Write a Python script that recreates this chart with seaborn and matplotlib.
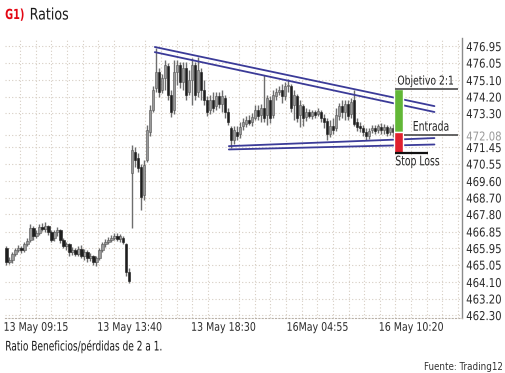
import numpy as np
import pandas as pd
import seaborn as sns
import matplotlib.pyplot as plt
from matplotlib import font_manager as fm
from matplotlib.patheffects import AbstractPathEffect
from matplotlib.transforms import Affine2D

# candle data (open, high, low, close), one candle per bar index
opens = [465.95, 465.19, 465.30, 465.62, 465.84, 465.95, 465.84, 466.17, 466.39, 467.04,
         466.60, 466.77, 467.09, 466.98, 467.15, 466.82, 466.49, 466.82, 466.93, 466.39,
         466.06, 466.17, 465.73, 465.84, 465.62, 465.89, 465.51, 465.73, 465.40, 465.51,
         465.19, 465.40, 465.84, 466.17, 466.28, 466.39, 466.49, 466.60, 466.44, 466.49,
         466.17, 464.64, 470.03, 471.18, 470.85, 470.36, 468.84, 470.74, 472.27, 473.46,
         474.66, 475.53, 474.55, 475.21, 475.86, 474.28, 473.46, 475.53, 475.92, 474.99,
         475.75, 474.44, 475.10, 475.92, 474.44, 475.53, 474.55, 474.01, 473.46, 474.01,
         473.68, 474.23, 473.79, 474.12, 473.36, 472.48, 471.83, 472.27, 472.16, 472.59,
         472.70, 472.92, 472.81, 473.03, 473.46, 473.19, 473.57, 473.19, 474.01, 473.19,
         474.23, 474.44, 474.55, 474.23, 474.77, 474.77, 473.74, 474.23, 473.19, 473.68,
         473.08, 473.36, 473.14, 473.36, 473.25, 473.36, 473.03, 472.87, 472.16, 472.59,
         472.48, 473.14, 473.68, 473.36, 473.79, 473.25, 474.01, 472.81, 472.59, 472.48,
         472.27, 472.05, 472.38, 472.48, 472.38, 472.54, 472.38, 472.54, 472.27, 472.48]
highs = [466.06, 465.46, 465.73, 465.95, 466.11, 466.06, 466.28, 466.49, 467.26, 467.15,
         466.93, 467.26, 467.31, 467.37, 467.20, 466.93, 466.93, 467.09, 466.98, 466.49,
         466.28, 466.22, 466.00, 465.95, 466.06, 466.11, 465.89, 465.84, 465.68, 465.57,
         465.51, 465.95, 466.28, 466.44, 466.55, 466.66, 466.77, 466.77, 466.71, 466.60,
         466.22, 464.86, 471.56, 471.45, 471.12, 470.52, 470.74, 472.65, 473.74, 474.77,
         476.84, 475.75, 475.43, 476.19, 476.02, 474.55, 476.19, 476.19, 476.08, 476.08,
         476.08, 475.64, 476.30, 476.08, 476.35, 475.75, 475.10, 474.23, 474.28, 474.44,
         474.44, 474.44, 474.55, 474.28, 473.57, 472.59, 472.59, 472.59, 472.81, 473.03,
         473.14, 473.19, 473.30, 473.74, 473.74, 473.79, 475.37, 474.28, 474.23, 474.55,
         474.66, 474.77, 474.88, 474.99, 475.15, 474.88, 474.55, 474.34, 474.01, 473.79,
         473.57, 473.52, 473.46, 473.46, 473.57, 473.46, 473.25, 473.03, 472.92, 473.03,
         473.57, 473.85, 474.01, 474.01, 474.01, 474.12, 474.55, 473.03, 472.81, 472.65,
         472.48, 472.48, 472.65, 472.65, 472.70, 472.76, 472.70, 472.65, 472.59, 472.70]
lows = [465.02, 465.08, 465.13, 465.51, 465.73, 465.68, 465.73, 466.06, 466.28, 466.39,
        466.49, 466.66, 466.88, 466.82, 466.66, 466.28, 466.33, 466.60, 466.22, 465.95,
        465.84, 465.51, 465.57, 465.51, 465.51, 465.40, 465.30, 465.19, 465.24, 465.02,
        464.97, 465.30, 465.73, 466.00, 466.17, 466.28, 466.39, 466.33, 466.28, 466.17,
        464.42, 464.04, 467.04, 470.36, 470.09, 468.02, 468.56, 470.63, 472.05, 473.36,
        474.44, 474.17, 474.39, 474.55, 474.01, 473.08, 473.25, 474.83, 474.66, 474.55,
        474.01, 474.28, 473.74, 474.01, 474.17, 474.01, 473.74, 473.14, 473.25, 473.36,
        473.46, 473.57, 473.36, 473.03, 472.65, 471.40, 471.61, 471.83, 471.94, 472.38,
        472.54, 472.65, 472.59, 472.92, 472.92, 472.81, 472.81, 472.65, 472.76, 473.03,
        474.01, 474.28, 473.85, 474.01, 474.44, 473.36, 472.92, 472.81, 472.54, 472.59,
        472.87, 473.03, 472.97, 473.03, 473.14, 472.81, 472.48, 471.83, 471.99, 472.16,
        472.32, 472.92, 473.03, 472.92, 472.92, 473.03, 472.59, 472.32, 472.27, 472.05,
        471.83, 471.89, 472.21, 472.16, 472.21, 472.16, 472.16, 472.05, 472.10, 471.99]
closes = [465.19, 465.30, 465.62, 465.84, 465.95, 465.84, 466.17, 466.33, 467.04, 466.60,
          466.77, 467.09, 466.98, 467.15, 466.82, 466.39, 466.82, 466.93, 466.39, 466.06,
          466.17, 465.73, 465.84, 465.62, 465.89, 465.51, 465.73, 465.40, 465.51, 465.19,
          465.40, 465.84, 466.17, 466.28, 466.39, 466.49, 466.60, 466.44, 466.60, 466.28,
          464.64, 464.15, 471.29, 470.74, 470.31, 468.73, 470.47, 472.38, 473.46, 474.55,
          475.53, 474.44, 475.21, 475.92, 474.28, 473.36, 475.53, 475.92, 474.99, 475.75,
          474.28, 475.10, 475.92, 474.28, 475.64, 474.55, 474.01, 473.36, 474.01, 473.57,
          474.23, 473.79, 474.23, 473.36, 472.81, 471.83, 472.38, 472.05, 472.54, 472.81,
          472.92, 472.76, 473.08, 473.46, 473.14, 473.57, 473.03, 474.12, 473.03, 474.28,
          474.44, 474.55, 474.23, 474.77, 474.83, 473.57, 474.28, 473.03, 473.74, 473.03,
          473.36, 473.14, 473.36, 473.19, 473.41, 473.03, 472.81, 472.16, 472.59, 472.38,
          473.19, 473.68, 473.36, 473.79, 473.14, 473.90, 472.70, 472.54, 472.48, 472.27,
          472.05, 472.32, 472.48, 472.32, 472.59, 472.38, 472.54, 472.21, 472.48, 472.27]

# triangle trend lines (bar index, price)
upper_outer = ([49.5, 142.8], [476.90, 473.68])
upper_inner = ([49.5, 142.8], [476.62, 473.36])
lower_upper = ([74.2, 142.8], [471.50, 471.94])
lower_lower = ([74.2, 142.8], [471.32, 471.59])

# trade levels
target = 474.61
entry = 472.27
entry_line = 472.10
stop = 471.12

y_ticks = [476.95, 476.05, 475.10, 474.20, 473.30, 472.08, 471.45, 470.55, 469.60,
           468.70, 467.80, 466.85, 465.95, 465.05, 464.10, 463.20, 462.30]
x_tick_pos = [9.8, 41.1, 72.4, 103.7, 135.0]
x_tick_labels = ["13 May 09:15", "13 May 13:40", "13 May 18:30", "16May 04:55", "16 May 10:20"]

sns.set_style("white")


# the original uses a narrow grotesque; pick a condensed face if there is one
def find_face(bold):
    for f in fm.fontManager.ttflist:
        name = f.fname.lower()
        if ("condensed" in name or "narrow" in name) and "italic" not in name \
                and "oblique" not in name and ("bold" in name) == bold \
                and "light" not in name and "semi" not in name:
            return f.fname
    return None


reg_file = find_face(False)
bold_file = find_face(True)


def fp(size, bold=False):
    fname = bold_file if bold else reg_file
    if fname:
        return fm.FontProperties(fname=fname, size=size)
    return fm.FontProperties(family=["DejaVu Sans"], size=size * 0.9,
                             weight="bold" if bold else "normal")


class Squeeze(AbstractPathEffect):
    """squeeze glyphs horizontally, to get closer to the narrow print face"""

    def __init__(self, sx, anchor="left"):
        super().__init__()
        self.sx = sx
        self.anchor = anchor

    def draw_path(self, renderer, gc, tpath, affine, rgbFace=None):
        ext = tpath.get_extents()
        x0 = {"left": ext.x0, "center": (ext.x0 + ext.x1) / 2, "right": ext.x1}[self.anchor]
        sq = Affine2D().translate(-x0, 0).scale(self.sx, 1).translate(x0, 0)
        renderer.draw_path(gc, tpath, sq + affine, rgbFace)


fig = plt.figure(figsize=(5.05, 3.73), dpi=100)
ax = fig.add_axes([5 / 505, 55 / 373, 457 / 505, 280 / 373])

idx = np.arange(len(opens))
o = np.array(opens)
c = np.array(closes)
ax.vlines(idx, lows, highs, color="#6e6e6e", lw=1.0, zorder=3)
up = c >= o
ax.bar(idx[up], (c - o)[up], bottom=o[up], width=0.75, color="#9a9a9a",
       edgecolor="#555555", lw=0.4, zorder=4)
ax.bar(idx[~up], (o - c)[~up], bottom=c[~up], width=0.75, color="#1e1e1e",
       edgecolor="#1e1e1e", lw=0.4, zorder=4)

lines = pd.DataFrame({
    "x": upper_outer[0] + upper_inner[0] + lower_upper[0] + lower_lower[0],
    "price": upper_outer[1] + upper_inner[1] + lower_upper[1] + lower_lower[1],
    "line": ["a", "a", "b", "b", "c", "c", "d", "d"],
})
sns.lineplot(data=lines, x="x", y="price", units="line", estimator=None,
             color="#3b3b98", lw=1.3, ax=ax, zorder=5)

# target / stop bar
ax.bar([130.8], [target - entry], bottom=[entry], width=2.7, color="#62b737", zorder=6)
ax.bar([130.8], [entry - stop], bottom=[stop], width=2.7, color="#e0202e", zorder=6)
ax.hlines(target, 129.5, 150.5, color="#4a4a4a", lw=1.2, zorder=6)
ax.hlines(entry_line, 132.8, 150.5, color="#4a4a4a", lw=1.2, zorder=6)
ax.hlines(stop, 129.5, 140.5, color="#111111", lw=1.6, zorder=6)
sq_label = [Squeeze(0.78)]
ax.text(130.4, target + 0.08, "Objetivo 2:1", fontproperties=fp(8.8), color="#222222",
        va="bottom", ha="left", zorder=7, path_effects=[Squeeze(0.84)])
ax.text(135.5, entry_line + 0.08, "Entrada", fontproperties=fp(9.5), color="#222222",
        va="bottom", ha="left", zorder=7, path_effects=sq_label)
ax.text(129.7, stop - 0.12, "Stop Loss", fontproperties=fp(9.5), color="#222222",
        va="top", ha="left", zorder=7, path_effects=sq_label)

ax.set_xlim(-0.5, 152)
ax.set_ylim(462.14, 477.39)
ax.set_yticks(y_ticks)
ax.set_yticklabels([f"{v:.2f}" for v in y_ticks])
ax.yaxis.tick_right()
ax.set_xticks(x_tick_pos)
ax.set_xticklabels(x_tick_labels)
ax.set_xticks(np.arange(4.58, 152, 5.217), minor=True)
ax.tick_params(axis="y", length=0, pad=3, labelcolor="#2a2a2a")
ax.tick_params(axis="x", length=0, pad=2, labelcolor="#2a2a2a")
ax.tick_params(axis="x", which="minor", length=0)
for lab in ax.get_yticklabels():
    lab.set_fontproperties(fp(8.8))
    lab.set_path_effects([Squeeze(0.92)])
    if lab.get_text() == "472.08":
        lab.set_color("#9a9a9a")
for lab in ax.get_xticklabels():
    lab.set_fontproperties(fp(8.5))
    lab.set_path_effects([Squeeze(0.89, "center")])

ax.grid(True, axis="y", which="major", color="#d6cdc2", lw=0.8, ls=(0, (1, 2)))
ax.grid(True, axis="x", which="minor", color="#d6cdc2", lw=0.8, ls=(0, (1, 2)))
ax.grid(False, axis="x", which="major")
ax.set_xlabel("")
ax.set_ylabel("")
for side in ["top", "left"]:
    ax.spines[side].set_visible(False)
ax.spines["right"].set_color("#8a8a8a")
ax.spines["right"].set_linewidth(1.0)
ax.spines["bottom"].set_color("#b8b0a6")
ax.spines["bottom"].set_linestyle((0, (1, 2)))
ax.spines["bottom"].set_linewidth(0.8)

fig.text(5 / 505, 1 - 15 / 373, "G1)", fontproperties=fp(10, bold=True),
         color="#e30613", va="center", ha="left", path_effects=[Squeeze(0.78)])
fig.text(29.5 / 505, 1 - 15 / 373, "Ratios", fontproperties=fp(11.5),
         color="#1a1a1a", va="center", ha="left", path_effects=[Squeeze(0.88)])
fig.text(5 / 505, 1 - 347 / 373, "Ratio Beneficios/pérdidas de 2 a 1.", fontproperties=fp(9.5),
         color="#1a1a1a", va="center", ha="left", path_effects=[Squeeze(0.76)])
fig.text(503 / 505, 1 - 367 / 373, "Fuente: Trading12", fontproperties=fp(7),
         color="#333333", va="center", ha="right")

fig.savefig("out.png", dpi=100)
